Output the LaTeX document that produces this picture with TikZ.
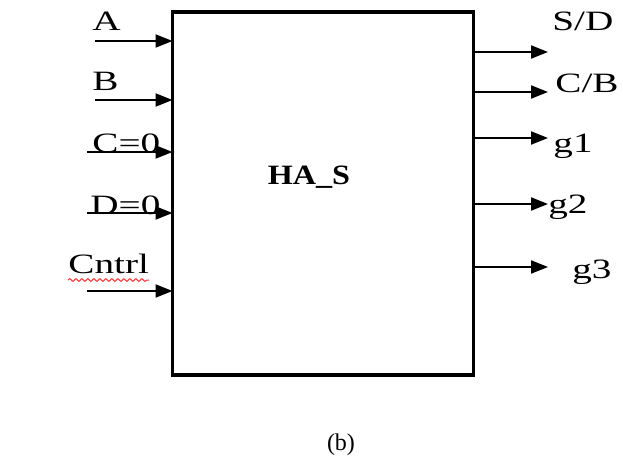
\documentclass[tikz,border=0pt]{standalone}
\usepackage{fontspec}
\setmainfont{Liberation Serif}
\usetikzlibrary{arrows.meta,decorations.pathmorphing}
\newcommand{\wide}[2][1.4]{\scalebox{#1}[1]{#2}}

\begin{document}
\begin{tikzpicture}[x=0.5pt, y=-0.5pt,
  block/.style={draw, line width=1.7pt, minimum width=150.5pt, minimum height=181.5pt,
                inner sep=0, outer sep=0},
  lab/.style={font=\fontsize{14}{16}\selectfont, anchor=base west, inner sep=0},
  title/.style={font=\fontsize{14}{16}\selectfont\bfseries},
  arr/.style={-{Triangle[length=8.5pt, width=6.5pt]}, line width=1pt},
  squiggle/.style={draw=red!80, line width=0.5pt, decorate,
                   decoration={snake, amplitude=0.7pt, segment length=3pt}}]
\useasboundingbox (0,0) rectangle (623,457);
\node[block] (has) at (323,193.5) {};
\node[title] (hasname) at (309,177) {\wide[1.15]{HA\_S}};
% inputs on the left
\foreach \n/\t/\lx/\ly/\sx/\ay in {a/A/92/30/95/41, b/B/92/90/95/100, c/C=0/92/152/87/152,
                                   d/D=0/90/214/87/213, ctl/Cntrl/68/273/87/291} {
  \node[lab] (l\n) at (\lx,\ly) {\wide{\t}};
  \coordinate (in\n) at (\sx,\ay);
  \draw[arr] (in\n) -- (in\n -| has.west);
}
\draw[squiggle] ([yshift=-3.5pt]lctl.base west) -- ([yshift=-3.5pt]lctl.base east);
% outputs on the right
\foreach \n/\t/\lx/\ly/\ay in {sd/{S/D}/552/30/52, cb/{C/B}/555/92/92, ga/g1/553/152/138,
                               gb/g2/548/213/204, gc/g3/572/278/267} {
  \coordinate (out\n) at (548,\ay);
  \draw[arr] (out\n -| has.east) -- (out\n);
  \node[lab] (l\n) at (\lx,\ly) {\wide{\t}};
}
\node[font=\fontsize{12}{14}\selectfont] (cap) at (341,445) {(b)};
\end{tikzpicture}
\end{document}
